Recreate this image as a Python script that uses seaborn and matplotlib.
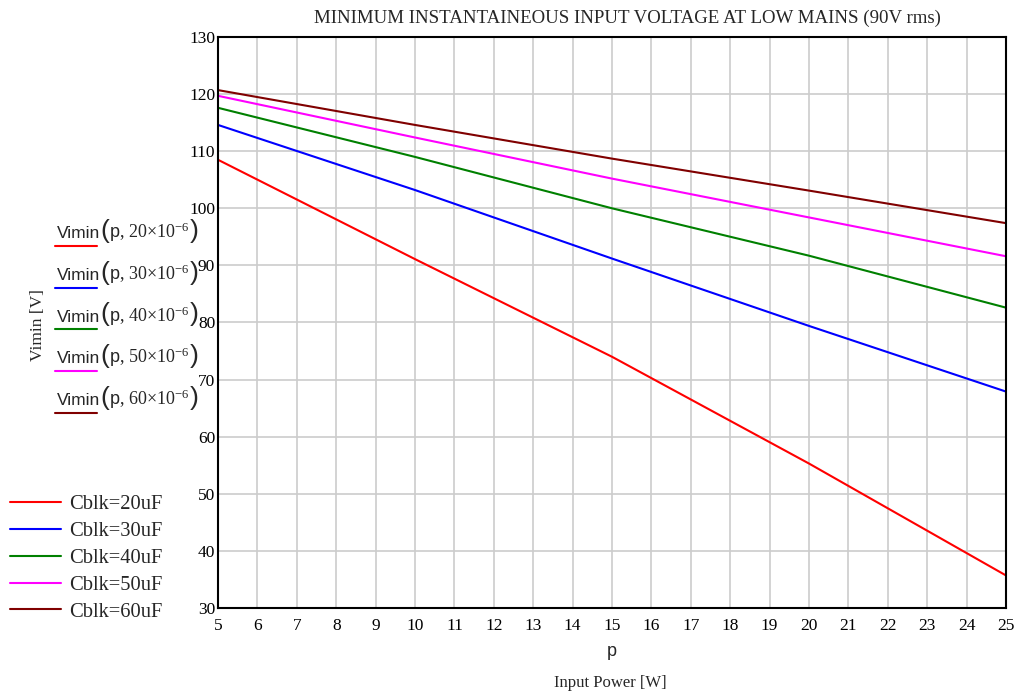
import matplotlib
matplotlib.use("Agg")
import matplotlib.pyplot as plt
from matplotlib.lines import Line2D
from matplotlib.offsetbox import TextArea, HPacker, AnchoredOffsetbox
import seaborn as sns
import pandas as pd

# ---- data ----
power = [5, 10, 15, 20, 25]
v_20uF = [108.5, 91.1, 74.0, 55.3, 35.7]
v_30uF = [114.6, 103.2, 91.2, 79.4, 67.9]
v_40uF = [117.6, 109.0, 100.0, 91.7, 82.6]
v_50uF = [119.7, 112.4, 105.2, 98.4, 91.6]
v_60uF = [120.7, 114.6, 108.7, 103.1, 97.4]
series_names = ["Cblk=20uF", "Cblk=30uF", "Cblk=40uF", "Cblk=50uF", "Cblk=60uF"]
cap_exps = ["20", "30", "40", "50", "60"]
colors = ["#ff0000", "#0000ff", "#008000", "#ff00ff", "#800000"]
x_ticks = list(range(5, 26))
y_ticks = list(range(30, 131, 10))

title = "MINIMUM INSTANTAINEOUS INPUT VOLTAGE AT LOW MAINS (90V rms)"

sns.set_style("white")
plt.rcParams["font.family"] = ["Liberation Serif", "DejaVu Serif"]
plt.rcParams["mathtext.fontset"] = "custom"
plt.rcParams["mathtext.rm"] = "Liberation Serif"
plt.rcParams["mathtext.sf"] = "Liberation Sans"
plt.rcParams["mathtext.it"] = "Liberation Serif:italic"

rows = []
for name, vals in zip(series_names, [v_20uF, v_30uF, v_40uF, v_50uF, v_60uF]):
    for p, v in zip(power, vals):
        rows.append({"p": p, "V": v, "series": name})
df = pd.DataFrame(rows)

W, H = 1020, 691
fig = plt.figure(figsize=(W / 100, H / 100), dpi=100)
L, R, T, B = 218, 1006, 37, 608
ax = fig.add_axes([L / W, 1 - B / H, (R - L) / W, (B - T) / H])

sns.lineplot(data=df, x="p", y="V", hue="series", palette=dict(zip(series_names, colors)),
             ax=ax, legend=False, linewidth=1.5, sort=False)

ax.set_xlim(5, 25)
ax.set_ylim(30, 130)
ax.set_xticks(x_ticks)
ax.set_yticks(y_ticks)
ax.grid(True, color="#cccccc", linewidth=1.2)
ax.set_axisbelow(True)
for s in ax.spines.values():
    s.set_color("black")
    s.set_linewidth(1.5)
ax.tick_params(axis="both", length=0, labelsize=12.5, colors="black")
ax.tick_params(axis="x", pad=7)
ax.tick_params(axis="y", pad=2)
ax.set_xlabel("")
ax.set_ylabel("")

fig.text(627 / W, 1 - 18 / H, title, ha="center", va="center", fontsize=13.6)
fig.text(38 / W, 1 - 325 / H, "Vimin [V]", rotation=90, ha="center", va="center", fontsize=12.5)
fig.text(612 / W, 1 - 652 / H, "p", ha="center", va="center", fontsize=13,
         family=["Liberation Sans", "DejaVu Sans"])
fig.text(610 / W, 1 - 683 / H, "Input Power [W]", ha="center", va="center", fontsize=12)

# left function-style labels with coloured swatches under them
sans = {"family": ["Liberation Sans", "DejaVu Sans"], "size": 12.5}
paren = {"family": ["Liberation Sans"], "size": 19}
for i, (c, col) in enumerate(zip(cap_exps, colors)):
    ly = 246 + i * 41.75
    parts = [
        TextArea("Vimin", textprops=sans),
        TextArea("(", textprops=paren),
        TextArea(r"$\mathsf{p},\,%s{\times}10^{-6}$" % c, textprops={"size": 13}),
        TextArea(")", textprops=paren),
    ]
    box = HPacker(children=parts, align="baseline", pad=0, sep=0)
    anch = AnchoredOffsetbox(loc="lower left", child=box, pad=0, borderpad=0, frameon=False,
                             bbox_to_anchor=(57 / W, 1 - (ly - 2) / H),
                             bbox_transform=fig.transFigure)
    fig.add_artist(anch)
    fig.add_artist(Line2D([55 / W, 97 / W], [1 - ly / H, 1 - ly / H],
                          transform=fig.transFigure, color=col, linewidth=1.5))

# bottom-left legend
handles = ax.get_lines()[:5]
leg = ax.legend(handles, series_names, loc="upper left",
                bbox_to_anchor=(10 / W, 1 - 495 / H), bbox_transform=fig.transFigure,
                frameon=False, prop={"family": "Liberation Serif", "size": 14.8},
                handlelength=2.5, handletextpad=0.4, labelspacing=0.36,
                borderpad=0, borderaxespad=0)

fig.savefig("out.png", dpi=100)
